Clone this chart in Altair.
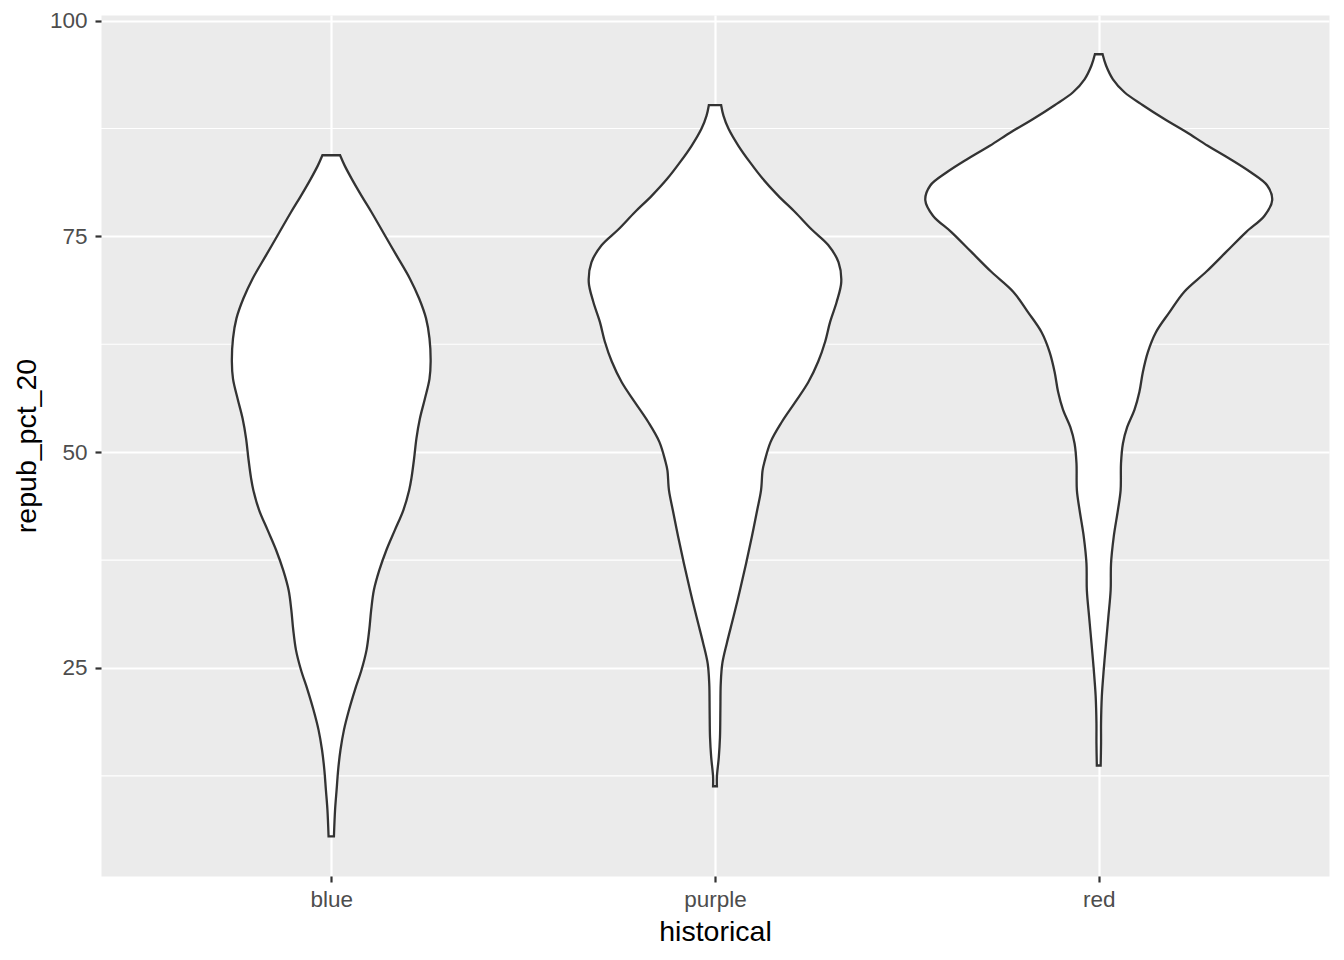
import altair as alt
import pandas as pd

# Groups and their positions on the discrete axis
groups = ["blue", "purple", "red"]
positions = [1, 2, 3]

# Violin profiles: y value (repub_pct_20) and half-width (category units)
blue_v = [84.4, 83.2, 81.7, 79.7, 77.8, 75.1, 72.8, 70.1, 67.8, 65.5, 63.2, 60.5, 58.5, 56.2, 53.9,
          51.6, 49.3, 47.0, 45.6, 43.3, 41.0, 38.7, 36.3, 34.0, 31.7, 29.4, 27.1, 24.8, 22.5, 20.1,
          17.8, 15.5, 13.2, 10.9, 8.6, 5.5]
blue_w = [0.023, 0.035, 0.053, 0.079, 0.105, 0.140, 0.170, 0.205, 0.229, 0.247, 0.256, 0.259, 0.256,
          0.244, 0.231, 0.222, 0.216, 0.209, 0.203, 0.188, 0.166, 0.144, 0.125, 0.111, 0.104, 0.099,
          0.092, 0.079, 0.062, 0.046, 0.033, 0.024, 0.018, 0.014, 0.010, 0.007]

purple_v = [90.2, 89.0, 87.5, 85.5, 83.6, 81.7, 79.7, 77.8, 75.8, 74.0, 72.0, 69.7, 67.4, 65.1, 62.8,
            60.5, 58.1, 55.8, 53.5, 51.2, 48.9, 47.9, 45.6, 43.3, 40.2, 37.1, 34.0, 30.9, 27.9, 25.5,
            23.2, 20.1, 17.0, 14.7, 12.4, 11.3]
purple_w = [0.016, 0.022, 0.035, 0.061, 0.091, 0.124, 0.165, 0.209, 0.252, 0.295, 0.322, 0.329, 0.317,
            0.300, 0.287, 0.269, 0.243, 0.209, 0.174, 0.145, 0.129, 0.124, 0.120, 0.110, 0.096, 0.081,
            0.065, 0.048, 0.031, 0.019, 0.015, 0.014, 0.013, 0.010, 0.005, 0.005]

red_v = [96.1, 94.8, 93.2, 91.7, 90.2, 88.6, 87.1, 85.5, 84.0, 82.4, 80.9, 79.2, 77.4, 75.5, 73.2,
         70.9, 68.6, 66.2, 63.9, 61.6, 59.3, 57.0, 54.9, 52.9, 51.0, 48.7, 45.6, 43.3, 40.2, 37.1,
         34.0, 30.9, 27.9, 24.8, 21.7, 18.6, 16.3, 13.7]
red_w = [0.010, 0.019, 0.037, 0.067, 0.115, 0.171, 0.228, 0.284, 0.341, 0.397, 0.439, 0.452, 0.432,
         0.384, 0.332, 0.280, 0.223, 0.184, 0.149, 0.128, 0.115, 0.106, 0.093, 0.074, 0.063, 0.058,
         0.057, 0.050, 0.039, 0.032, 0.031, 0.025, 0.019, 0.013, 0.008, 0.006, 0.006, 0.005]

y_major = [25, 50, 75, 100]
y_minor = [12.5, 37.5, 62.5, 87.5]

rows = []
for g, pos, vs, ws in [("blue", 1, blue_v, blue_w), ("purple", 2, purple_v, purple_w), ("red", 3, red_v, red_w)]:
    for v, w in zip(vs, ws):
        rows.append({"group": g, "v": v, "lo": pos - w, "hi": pos + w})
df = pd.DataFrame(rows)
minor_df = pd.DataFrame({"v": y_minor})

FONT = "Liberation Sans"

y_enc = alt.Y(
    "v:Q",
    scale=alt.Scale(domain=[0.9, 100.65], nice=False, zero=False),
    axis=alt.Axis(
        values=y_major, title="repub_pct_20", grid=True, gridColor="white", gridWidth=2.2,
        domain=False, ticks=True, tickColor="#333333", tickWidth=2.2, tickSize=6,
        labelFont=FONT, labelFontSize=22.5, labelColor="#4D4D4D", labelPadding=8,
        titleFont=FONT, titleFontSize=28.5, titleColor="black", titleFontWeight="normal",
        titleX=-66, titleY=430.5, titleBaseline="alphabetic", titleAngle=270, titleAlign="center",
    ),
)

x_axis = alt.Axis(
    values=positions,
    labelExpr="datum.value == 1 ? 'blue' : datum.value == 2 ? 'purple' : 'red'",
    title="historical", grid=True, gridColor="white", gridWidth=2.2,
    domain=False, ticks=True, tickColor="#333333", tickWidth=2.2, tickSize=6,
    labelFont=FONT, labelFontSize=22.5, labelColor="#4D4D4D", labelPadding=24,
    labelBaseline="alphabetic",
    titleFont=FONT, titleFontSize=28.5, titleColor="black", titleFontWeight="normal",
    titleY=64, titleBaseline="alphabetic",
)

minor = alt.Chart(minor_df).mark_rule(color="white", strokeWidth=1.1).encode(y=y_enc)

violins = alt.Chart(df).mark_area(
    orient="horizontal", interpolate="catmull-rom", fill="white", stroke="#333333", strokeWidth=2.3
).encode(
    y=y_enc,
    x=alt.X("lo:Q", scale=alt.Scale(domain=[0.4, 3.6], nice=False, zero=False), axis=x_axis),
    x2="hi:Q",
    detail="group:N",
)

chart = alt.layer(minor, violins).properties(
    width=1228, height=861,
    padding={"left": 93, "top": 7, "right": 2, "bottom": 70},
    autosize=alt.AutoSizeParams(type="none"),
).configure_view(fill="#EBEBEB", stroke="transparent")

chart.save("out.html", embed_options={"renderer": "svg", "actions": False})
